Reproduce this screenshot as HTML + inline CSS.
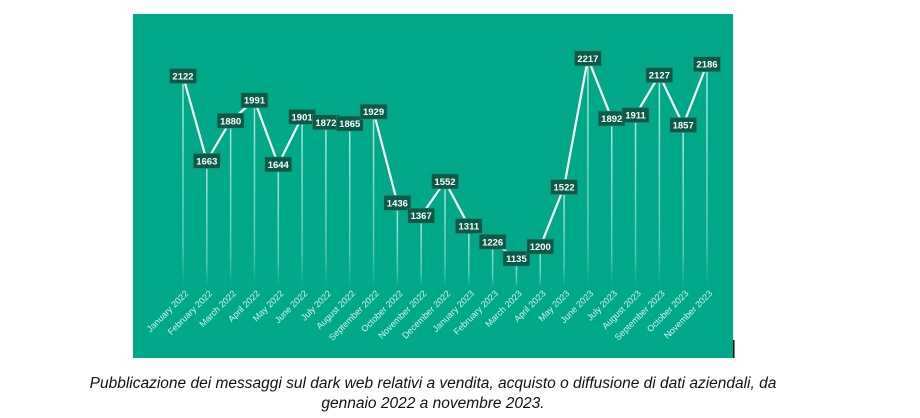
<!DOCTYPE html>
<html><head><meta charset="utf-8"><style>
body{margin:0;width:920px;height:418px;background:#fff;overflow:hidden;position:relative;font-family:"Liberation Sans",sans-serif}
#cap{position:absolute;left:40px;width:786px;top:374px;text-align:center;font-style:italic;font-size:15.5px;line-height:20px;color:#111}
</style></head><body>
<svg id="chart" width="920" height="370" style="position:absolute;left:0;top:0">
<defs><linearGradient id="fade" x1="0" y1="0" x2="0" y2="1"><stop offset="0" stop-color="#fff" stop-opacity="0.7"/><stop offset="0.8" stop-color="#fff" stop-opacity="0.35"/><stop offset="1" stop-color="#fff" stop-opacity="0"/></linearGradient></defs>
<rect x="133" y="14" width="600" height="344" fill="#00a88a"/>
<rect x="733" y="340" width="1.5" height="18" fill="#000"/>
<g id="drops"></g><g id="line"></g><g id="labels"></g><g id="xlabels"></g>
</svg>
<div id="cap">Pubblicazione dei messaggi sul dark web relativi a vendita, acquisto o diffusione di dati aziendali, da<br>gennaio 2022 a novembre 2023.</div>
<script>
const categories=["January 2022","February 2022","March 2022","April 2022","May 2022","June 2022","July 2022","August 2022","September 2022","October 2022","November 2022","December 2022","January 2023","February 2023","March 2023","April 2023","May 2023","June 2023","July 2023","August 2023","September 2023","October 2023","November 2023"];
const values=[2122,1663,1880,1991,1644,1901,1872,1865,1929,1436,1367,1552,1311,1226,1135,1200,1522,2217,1892,1911,2127,1857,2186];
const NS="http://www.w3.org/2000/svg";
const x0=183,x1=707;
function xs(i){return x0+(x1-x0)*i/(categories.length-1);}
function ys(v){return 76+(2122-v)*0.185;}
function mk(t,a,p){const e=document.createElementNS(NS,t);for(const k in a)e.setAttribute(k,a[k]);p.appendChild(e);return e;}
const drops=document.getElementById('drops'),line=document.getElementById('line'),labels=document.getElementById('labels'),xl=document.getElementById('xlabels');
let pts=values.map((v,i)=>xs(i)+','+ys(v)).join(' ');
values.forEach((v,i)=>{
 const d=mk('rect',{x:xs(i)-0.75,y:ys(v),width:1.5,height:287-ys(v),fill:'url(#fade)'},drops);
 
 
});
const pl=mk('polyline',{points:pts,fill:'none',stroke:'#fff','stroke-width':2.2,'stroke-linejoin':'miter'},line);


values.forEach((v,i)=>{
 const g=mk('g',{},labels);
 
 
 mk('rect',{x:xs(i)-13.5,y:ys(v)-7.5,width:27,height:15,fill:'#0b5a48',stroke:'#2a8a72','stroke-width':0.6},g);
 const t=mk('text',{x:xs(i),y:ys(v)+3.5,'text-anchor':'middle','font-size':9.5,'font-weight':'bold',fill:'#fff'},g);
 t.textContent=v;
});
categories.forEach((c,i)=>{
 const t=mk('text',{x:xs(i)+6,y:294,'text-anchor':'end','font-size':9,fill:'#d8f2ec',transform:`rotate(-45 ${xs(i)+6} 294)`},xl);
 
 
 t.textContent=c;
});
</script>
</body></html>
